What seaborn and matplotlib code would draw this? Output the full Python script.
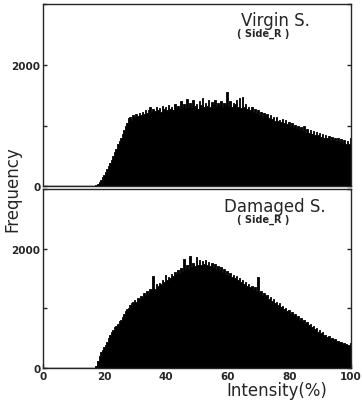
import numpy as np
import pandas as pd
import matplotlib
matplotlib.use("Agg")
import matplotlib.pyplot as plt
import seaborn as sns

# bin lower edges: 17.0 .. 99.5 (0.5 % wide)
bin_width = 0.5
bin_start = 17.0

virgin = [
    20, 45, 75, 110, 150, 185, 230, 280, 330, 385,
    440, 500, 560, 620, 690, 740, 800, 870, 930, 990,
    1050, 1120, 1150, 1090, 1170, 1140, 1190, 1160, 1210, 1180,
    1230, 1190, 1260, 1210, 1250, 1300, 1220, 1270, 1240, 1310,
    1250, 1290, 1230, 1330, 1270, 1300, 1250, 1340, 1280, 1310,
    1260, 1360, 1290, 1320, 1270, 1400, 1300, 1350, 1290, 1440,
    1310, 1370, 1300, 1420, 1330, 1360, 1280, 1400, 1340, 1450,
    1310, 1380, 1330, 1420, 1300, 1390, 1350, 1430, 1320, 1370,
    1340, 1410, 1300, 1380, 1340, 1560, 1330, 1400, 1310, 1380,
    1350, 1420, 1300, 1450, 1290, 1470, 1300, 1360, 1270, 1310,
    1260, 1300, 1220, 1270, 1200, 1250, 1180, 1230, 1150, 1200,
    1160, 1190, 1120, 1180, 1110, 1140, 1080, 1150, 1070, 1100,
    1060, 1110, 1040, 1090, 1020, 1060, 990, 1040, 970, 1010,
    960, 1000, 940, 980, 920, 990, 900, 950, 880, 930,
    870, 910, 850, 900, 840, 880, 820, 860, 800, 850,
    790, 830, 770, 820, 760, 800, 740, 790, 730, 780,
    720, 760, 700, 740, 690, 800,
]

damaged = [
    30, 120, 200, 260, 300, 350, 390, 440, 500, 560,
    600, 640, 680, 700, 740, 780, 810, 850, 900, 950,
    980, 1010, 1050, 1080, 1100, 1140, 1110, 1180, 1150, 1210,
    1190, 1250, 1220, 1290, 1260, 1330, 1300, 1540, 1330, 1400,
    1370, 1430, 1400, 1470, 1440, 1560, 1480, 1530, 1500, 1580,
    1540, 1600, 1570, 1640, 1590, 1680, 1620, 1820, 1650, 1720,
    1660, 1880, 1690, 1760, 1700, 1850, 1720, 1800, 1730, 1790,
    1740, 1810, 1720, 1780, 1700, 1760, 1680, 1740, 1660, 1700,
    1640, 1690, 1610, 1650, 1580, 1620, 1550, 1590, 1520, 1560,
    1500, 1540, 1470, 1510, 1440, 1470, 1410, 1440, 1380, 1410,
    1350, 1380, 1320, 1360, 1290, 1520, 1270, 1290, 1230, 1250,
    1200, 1230, 1160, 1190, 1130, 1150, 1090, 1110, 1060, 1080,
    1020, 1040, 980, 1000, 950, 970, 910, 930, 880, 900,
    850, 870, 810, 840, 780, 800, 750, 770, 720, 740,
    690, 700, 650, 670, 610, 630, 580, 600, 550, 560,
    520, 530, 490, 500, 470, 480, 450, 460, 430, 440,
    410, 420, 400, 390, 380, 420,
]

panel_titles = ["Virgin S.", "Damaged S."]
panel_sub = "( Side_R )"
x_ticks = [0, 20, 40, 60, 80, 100]

edges = [bin_start + bin_width * i for i in range(len(virgin) + 1)]
centers = [e + bin_width / 2 for e in edges[:-1]]

sns.set_style("ticks")
plt.rcParams["font.family"] = ["DejaVu Sans"]

fig = plt.figure(figsize=(3.62, 4.02), dpi=100)
ax1 = fig.add_axes([0.119, 0.534, 0.851, 0.453])
ax2 = fig.add_axes([0.119, 0.082, 0.851, 0.446])

# title positions (axes fraction) differ a bit between the two panels
title_pos = [(0.867, 0.915), (0.916, 0.905)]
sub_pos = [(0.80, 0.84), (0.80, 0.832)]

for ax, counts, title, tp, sp in zip([ax1, ax2], [virgin, damaged],
                                     panel_titles, title_pos, sub_pos):
    df = pd.DataFrame({"x": centers, "w": counts})
    sns.histplot(data=df, x="x", weights="w", bins=edges, element="step",
                 fill=True, color="black", edgecolor="black", linewidth=0.6,
                 alpha=1, ax=ax)
    ax.plot([0, bin_start], [0, 0], color="black", lw=1)
    ax.set_xlim(0, 100)
    ax.set_ylim(0, 3000)
    ax.set_yticks([0, 1000, 2000, 3000])
    ax.set_yticklabels(["0", "", "2000", ""])
    ax.set_xticks(x_ticks)
    ax.set_xlabel("")
    ax.set_ylabel("")
    ax.tick_params(direction="in", length=3, width=1, right=True,
                   labelsize=7.5, pad=2)
    for lab in ax.get_yticklabels() + ax.get_xticklabels():
        lab.set_fontweight("bold")
    for s in ax.spines.values():
        s.set_visible(True)
        s.set_linewidth(1.0)
    ax.text(tp[0], tp[1], title, transform=ax.transAxes, ha="right",
            va="center", fontsize=12)
    ax.text(sp[0], sp[1], panel_sub, transform=ax.transAxes, ha="right",
            va="center", fontsize=7, fontweight="bold")

ax1.set_xticklabels([])
ax1.tick_params(axis="x", bottom=False)

fig.text(0.035, 0.53, "Frequency", rotation=90, ha="center", va="center",
         fontsize=12)
fig.text(0.765, 0.028, "Intensity(%)", ha="center", va="center", fontsize=12)

fig.savefig("out.png", dpi=100)
